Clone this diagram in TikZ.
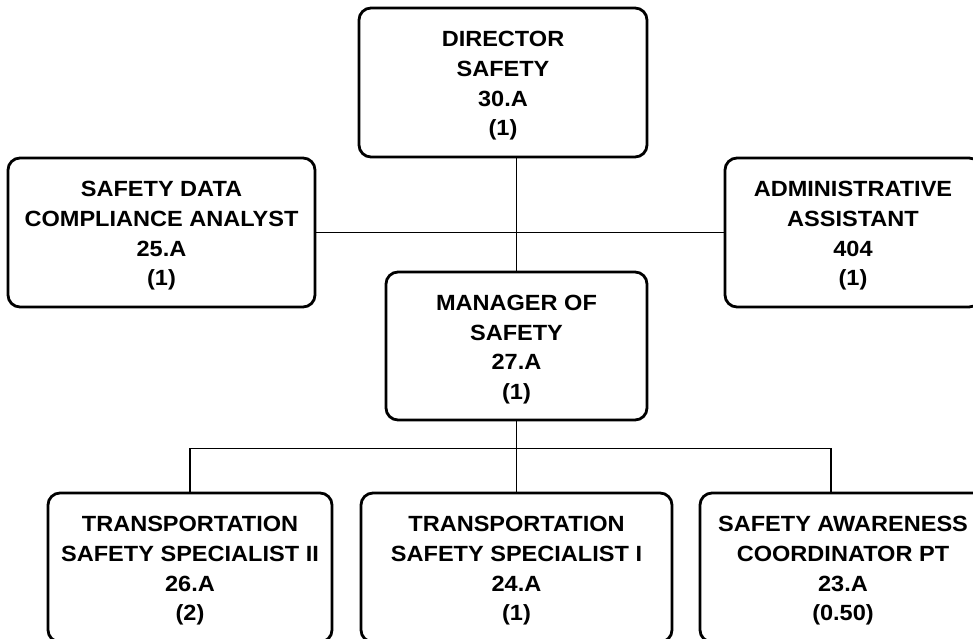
\documentclass[tikz,border=0pt]{standalone}
\usepackage{fontspec}
\setmainfont{Liberation Sans}[FakeStretch=1.07]
\begin{document}
\begin{tikzpicture}[x=1pt,y=-1pt,
  box/.style={draw=black, line width=2.8pt, rounded corners=12pt, rectangle,
    minimum height=149pt, inner sep=0pt},
  txt/.style={inner sep=0pt, align=center,
    font=\fontsize{22}{29.7}\selectfont\bfseries},
  conn/.style={draw=black, line width=1.4pt}]
\useasboundingbox (0,0) rectangle (973,638);
\node[box, minimum width=288pt] (dir) at (503,82.5) {};
\node[box, minimum width=307pt] (sdca) at (161.5,232.5) {};
\node[box, minimum width=256pt] (adm) at (853,232.5) {};
\node[box, minimum width=261pt, minimum height=148pt] (mgr) at (516.5,346) {};
\node[box, minimum width=284pt] (b1) at (190,567.5) {};
\node[box, minimum width=311pt] (b2) at (516.5,567.5) {};
\node[box, minimum width=286pt] (b3) at (843,567.5) {};
\node[txt] (dirt) at ([yshift=-3.5pt]dir.center) {DIRECTOR\\SAFETY\\30.A\\(1)};
\node[txt] (sdcat) at ([yshift=-3.5pt]sdca.center) {SAFETY DATA\\COMPLIANCE ANALYST\\25.A\\(1)};
\node[txt] (admt) at ([yshift=-3.5pt]adm.center) {ADMINISTRATIVE\\ASSISTANT\\404\\(1)};
\node[txt] (mgrt) at ([yshift=-3.5pt]mgr.center) {MANAGER OF\\SAFETY\\27.A\\(1)};
\node[txt] (b1t) at ([yshift=-3.5pt]b1.center) {TRANSPORTATION\\SAFETY SPECIALIST II\\26.A\\(2)};
\node[txt] (b2t) at ([yshift=-3.5pt]b2.center) {TRANSPORTATION\\SAFETY SPECIALIST I\\24.A\\(1)};
\node[txt] (b3t) at ([yshift=-3.5pt]b3.center) {SAFETY AWARENESS\\COORDINATOR PT\\23.A\\(0.50)};
\coordinate (b3in) at ([xshift=-12pt]b3.north);
\draw[conn] (dir.south -| mgr.north) -- (mgr.north);
\draw[conn] (sdca.east) -- (adm.west);
\draw[conn] (mgr.south) -- ++(0,27) coordinate (j);
\draw[conn] (b1.north) -- (b1.north |- j) -- (b3in |- j) -- (b3in);
\draw[conn] (j) -- (b2.north);
\end{tikzpicture}
\end{document}
